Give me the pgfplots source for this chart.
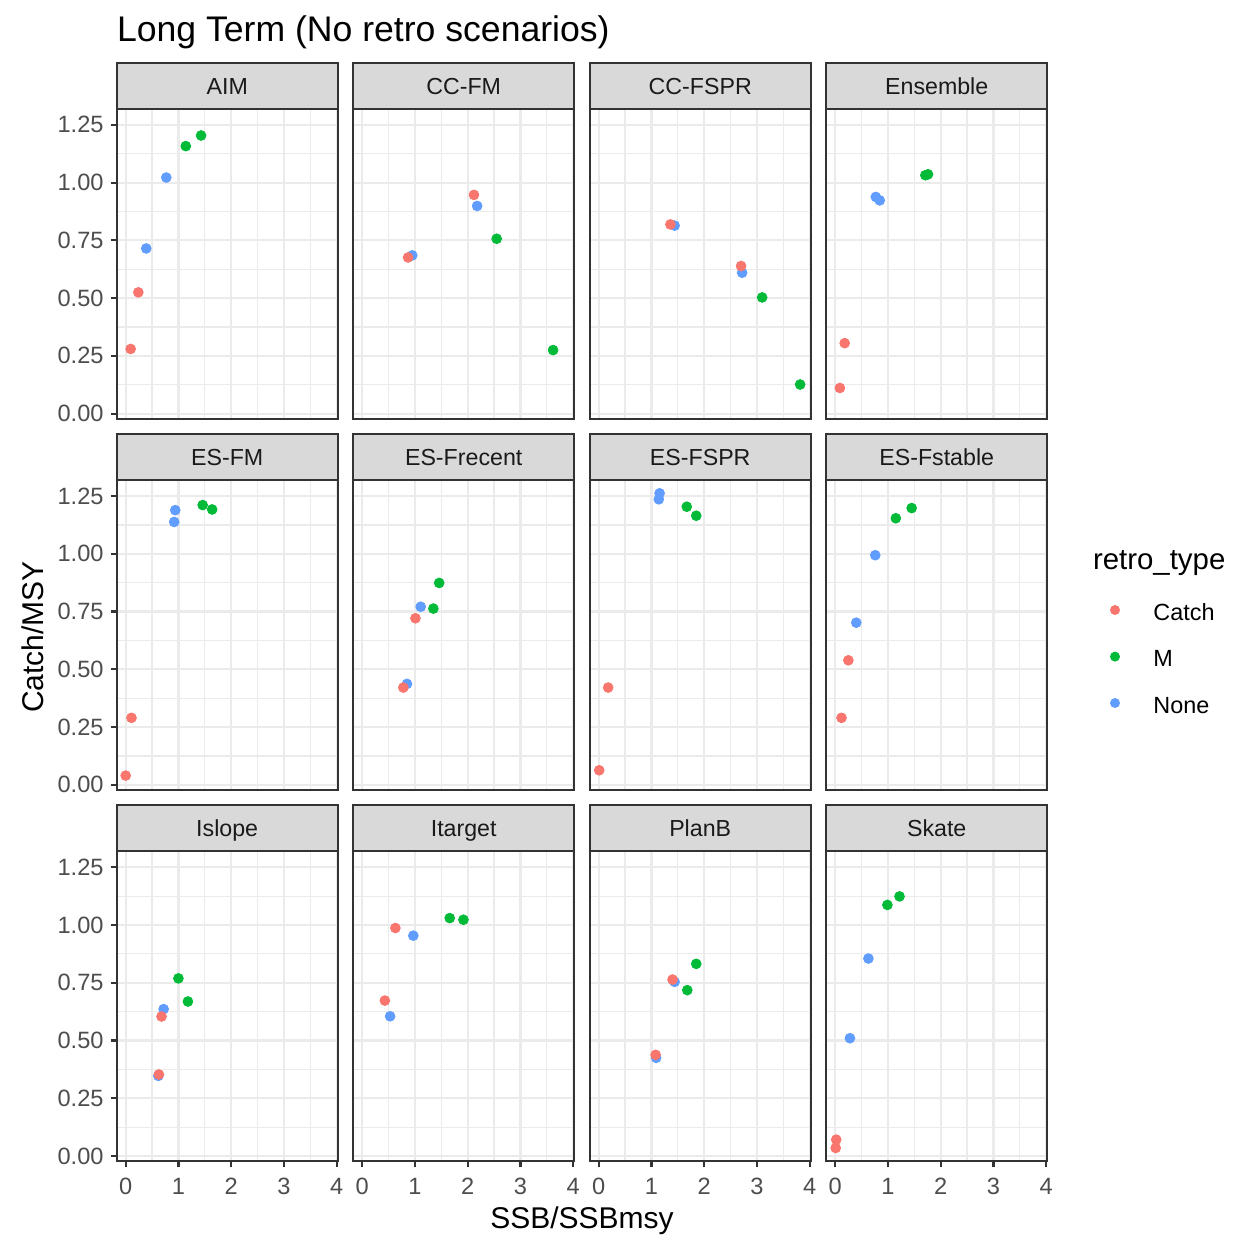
\documentclass[border=0pt]{standalone}
\usepackage{fontspec}
\setmainfont{Liberation Sans}
\usepackage{pgfplots}
\usepackage{pgfplotstable}
\pgfplotsset{compat=1.18}

\definecolor{catchcol}{HTML}{F8766D}
\definecolor{mcol}{HTML}{00BA38}
\definecolor{nonecol}{HTML}{619CFF}
\definecolor{grey10}{HTML}{1A1A1A}
\definecolor{grey20}{HTML}{333333}
\definecolor{grey30}{HTML}{4D4D4D}
\definecolor{grey85}{HTML}{D9D9D9}
\definecolor{grey92}{HTML}{EBEBEB}

% one table per management procedure: SSB/SSBmsy, Catch/MSY, retro type
\pgfplotstableread{
x y type
0.39 0.715 None
0.77 1.022 None
1.14 1.158 M
1.43 1.204 M
0.095 0.280 Catch
0.24 0.525 Catch
}\tabAIM
\pgfplotstableread{
x y type
0.95 0.685 None
2.18 0.899 None
2.55 0.757 M
3.62 0.275 M
0.87 0.676 Catch
2.12 0.947 Catch
}\tabCCFM
\pgfplotstableread{
x y type
1.44 0.814 None
2.72 0.610 None
3.10 0.503 M
3.82 0.126 M
1.36 0.819 Catch
2.70 0.639 Catch
}\tabCCFSPR
\pgfplotstableread{
x y type
0.77 0.938 None
0.845 0.923 None
1.71 1.032 M
1.76 1.036 M
0.18 0.305 Catch
0.09 0.111 Catch
}\tabEnsemble
\pgfplotstableread{
x y type
0.94 1.189 None
0.92 1.138 None
1.46 1.211 M
1.64 1.192 M
0.00 0.040 Catch
0.11 0.290 Catch
}\tabESFM
\pgfplotstableread{
x y type
0.85 0.437 None
1.11 0.771 None
1.35 0.763 M
1.46 0.874 M
0.78 0.421 Catch
1.01 0.721 Catch
}\tabESFrecent
\pgfplotstableread{
x y type
1.155 1.262 None
1.14 1.236 None
1.67 1.204 M
1.85 1.165 M
0.01 0.063 Catch
0.18 0.421 Catch
}\tabESFSPR
\pgfplotstableread{
x y type
0.40 0.702 None
0.76 0.994 None
1.15 1.154 M
1.45 1.198 M
0.12 0.290 Catch
0.25 0.539 Catch
}\tabESFstable
\pgfplotstableread{
x y type
0.62 0.347 None
0.72 0.636 None
1.00 0.769 M
1.18 0.669 M
0.63 0.353 Catch
0.68 0.604 Catch
}\tabIslope
\pgfplotstableread{
x y type
0.53 0.605 None
0.97 0.954 None
1.66 1.030 M
1.92 1.023 M
0.43 0.673 Catch
0.63 0.987 Catch
}\tabItarget
\pgfplotstableread{
x y type
1.09 0.425 None
1.44 0.754 None
1.68 0.718 M
1.85 0.832 M
1.08 0.438 Catch
1.40 0.764 Catch
}\tabPlanB
\pgfplotstableread{
x y type
0.28 0.510 None
0.63 0.855 None
0.99 1.087 M
1.22 1.124 M
0.02 0.071 Catch
0.01 0.035 Catch
}\tabSkate

\pgfplotsset{
  panel/.style={
    scale only axis,
    width=110.5pt, height=155pt,
    anchor=north west,
    xmin=-0.17, xmax=4.02,
    ymin=-0.022, ymax=1.320,
    xtick={0,1,2,3,4},
    ytick={0,0.25,0.5,0.75,1,1.25},
    xtick pos=bottom, ytick pos=left,
    minor x tick num=1,
    minor y tick num=1,
    grid=both,
    major grid style={draw=grey92, line width=1.1pt},
    minor grid style={draw=grey92, line width=0.55pt},
    axis line style={draw=grey20, line width=1.1pt},
    tick align=outside,
    major tick length=3.1pt,
    minor tick length=0pt,
    tick style={draw=grey20, line width=1.1pt},
    xticklabels={}, yticklabels={},
    xtick style={draw=none}, ytick style={draw=none},
    ticklabel style={font=\fontsize{11.8}{14}\selectfont, text=grey30, inner sep=3.3pt},
    xticklabel style={yshift=-2pt},
    clip=false,
  },
  leftcol/.style={
    yticklabels={0.00,0.25,0.50,0.75,1.00,1.25},
    ytick style={draw=grey20, line width=1.1pt},
  },
  bottomrow/.style={
    xticklabels={0,1,2,3,4},
    xtick style={draw=grey20, line width=1.1pt},
  },
}

% draw one facet: #1 table, #2 strip label, #3 x, #4 y, #5 extra axis options
\newcommand{\panel}[5]{%
  \begin{axis}[panel, at={(#3,#4)}, name=ax, #5]
    \addplot[scatter, only marks, scatter src=explicit symbolic,
      scatter/classes={
        Catch={mark=*, mark size=2.45pt, catchcol},
        M={mark=*, mark size=2.45pt, mcol},
        None={mark=*, mark size=2.45pt, nonecol}}]
      table[x=x, y=y, meta=type]{#1};
  \end{axis}
  \draw[fill=grey85, draw=grey20, line width=1.1pt]
    (ax.north west) rectangle ([yshift=23pt]ax.north east);
  \node[anchor=base, inner sep=0pt, font=\fontsize{11.6}{14}\selectfont, text=grey10]
    at ([yshift=7.2pt]ax.north) {#2};
}

\begin{document}
\begin{tikzpicture}
  \useasboundingbox (0,0) rectangle (617pt,-618pt);

  \panel{\tabAIM}{AIM}{58.35pt}{-54.35pt}{leftcol}
  \panel{\tabCCFM}{CC-FM}{176.6pt}{-54.35pt}{}
  \panel{\tabCCFSPR}{CC-FSPR}{294.85pt}{-54.35pt}{}
  \panel{\tabEnsemble}{Ensemble}{413.1pt}{-54.35pt}{}

  \panel{\tabESFM}{ES-FM}{58.35pt}{-239.95pt}{leftcol}
  \panel{\tabESFrecent}{ES-Frecent}{176.6pt}{-239.95pt}{}
  \panel{\tabESFSPR}{ES-FSPR}{294.85pt}{-239.95pt}{}
  \panel{\tabESFstable}{ES-Fstable}{413.1pt}{-239.95pt}{}

  \panel{\tabIslope}{Islope}{58.35pt}{-425.55pt}{leftcol,bottomrow}
  \panel{\tabItarget}{Itarget}{176.6pt}{-425.55pt}{bottomrow}
  \panel{\tabPlanB}{PlanB}{294.85pt}{-425.55pt}{bottomrow}
  \panel{\tabSkate}{Skate}{413.1pt}{-425.55pt}{bottomrow}

  % titles
  \node[anchor=base west, inner sep=0pt, font=\fontsize{17.8}{21}\selectfont]
    at (58.3pt,-21pt) {Long Term (No retro scenarios)};
  \node[anchor=base, inner sep=0pt, font=\fontsize{15}{18}\selectfont]
    at (291pt,-614pt) {SSB/SSBmsy};
  \node[anchor=base, rotate=90, inner sep=0pt, font=\fontsize{15}{18}\selectfont]
    at (21.65pt,-318.5pt) {Catch/MSY};

  % legend
  \node[anchor=base west, inner sep=0pt, font=\fontsize{14.7}{17}\selectfont]
    at (546.3pt,-284.5pt) {retro\_type};
  \fill[catchcol] (557.5pt,-305pt) circle (2.5pt);
  \fill[mcol] (557.5pt,-328.3pt) circle (2.5pt);
  \fill[nonecol] (557.5pt,-351.5pt) circle (2.5pt);
  \node[anchor=base west, inner sep=0pt, font=\fontsize{11.7}{14}\selectfont] at (576.5pt,-310pt) {Catch};
  \node[anchor=base west, inner sep=0pt, font=\fontsize{11.7}{14}\selectfont] at (576.5pt,-333.3pt) {M};
  \node[anchor=base west, inner sep=0pt, font=\fontsize{11.7}{14}\selectfont] at (576.5pt,-356.7pt) {None};
\end{tikzpicture}
\end{document}
